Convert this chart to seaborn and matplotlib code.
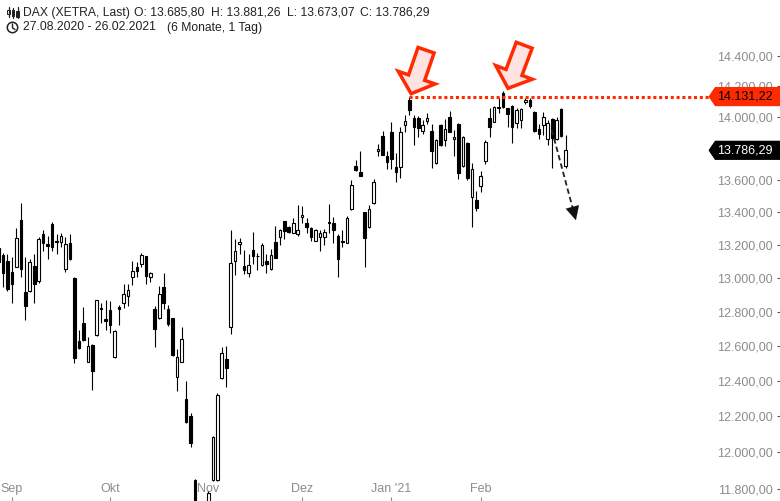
import numpy as np
import pandas as pd
import matplotlib
matplotlib.use("Agg")
import matplotlib.pyplot as plt
import seaborn as sns
from matplotlib.patches import Polygon, Rectangle, Circle
from matplotlib.lines import Line2D
from matplotlib.transforms import IdentityTransform
from matplotlib.ticker import FixedLocator, FuncFormatter, NullLocator

# DAX (XETRA) daily candles 27.08.2020 - 26.02.2021
opens = [13180, 13138, 13102, 13036, 13068, 13353, 12915, 12924, 13070, 12984,
         13265, 13206, 13326, 13223, 13218, 13056, 13211, 13000, 12628, 12731,
         12509, 12608, 12664, 12822, 12758, 12810, 12538, 12826, 12853, 12895,
         13008, 13064, 13082, 13132, 13008, 12819, 12765, 12944, 12816, 12761,
         12422, 12509, 12295, 12201, 11845, 11540, 11640, 11640, 11848, 11848,
         12415, 12523, 12711, 13104, 13203, 13070, 13032, 13167, 13135, 13078,
         13102, 13052, 13215, 13249, 13344, 13310, 13274, 13268, 13368, 13336,
         13300, 13225, 13249, 13245, 13334, 13336, 13253, 13220, 13212, 13418,
         13690, 13647, 13398, 13306, 13455, 13779, 13878, 13750, 13900, 13679,
         13683, 13945, 14110, 13991, 13995, 13910, 13974, 13907, 13704, 13950,
         13852, 13998, 13859, 13956, 13687, 13835, 13495, 13475, 13561, 13721,
         13992, 13970, 14062, 14157, 14056, 14071, 13960, 13980, 14095, 14110,
         14034, 13925, 13947, 13861, 13985, 13856, 14052, 13685.80]
highs = [13215, 13148, 13142, 13128, 13300, 13458, 13128, 13112, 13142, 13249,
         13290, 13253, 13338, 13264, 13270, 13249, 13267, 13005, 12693, 12829,
         12652, 12612, 12870, 12850, 12870, 12864, 12690, 12840, 12964, 12964,
         13102, 13094, 13152, 13135, 13038, 12833, 12952, 13032, 12840, 12765,
         12581, 12713, 12400, 12219, 11855, 11690, 11700, 11785, 12090, 12330,
         12593, 12597, 13293, 13235, 13240, 13169, 13142, 13277, 13148, 13212,
         13142, 13172, 13314, 13298, 13348, 13314, 13365, 13443, 13437, 13361,
         13310, 13296, 13290, 13296, 13453, 13371, 13265, 13290, 13376, 13600,
         13725, 13780, 13402, 13443, 13606, 13826, 13910, 13780, 13970, 13770,
         13932, 14012, 14131.22, 14012, 14005, 13977, 14028, 13955, 13856, 13957,
         13985, 14038, 13916, 13960, 13878, 13841, 13704, 13531, 13654, 13852,
         14056, 14070, 14120, 14169, 14060, 14075, 14056, 14060, 14125, 14120,
         14038, 13956, 14034, 13980, 13991, 13998, 14056, 13881.26]
lows = [12947, 12948, 12924, 12850, 13064, 13008, 12754, 12918, 12853, 12972,
        13162, 13114, 13162, 13142, 13188, 13038, 13108, 12500, 12580, 12630,
        12505, 12350, 12660, 12735, 12692, 12675, 12530, 12721, 12820, 12835,
        12958, 13008, 13064, 12964, 12978, 12593, 12755, 12816, 12717, 12542,
        12342, 12505, 12163, 12030, 11450, 11450, 11450, 11570, 11842, 11842,
        12409, 12367, 12670, 13018, 13142, 13022, 13008, 13082, 13048, 13072,
        13032, 13048, 13118, 13198, 13235, 13274, 13270, 13253, 13331, 13274,
        13225, 13224, 13164, 13198, 13274, 13212, 13008, 13188, 13208, 13413,
        13658, 13622, 13064, 13302, 13450, 13752, 13755, 13666, 13666, 13589,
        13615, 13905, 14012, 13820, 13874, 13889, 13952, 13677, 13700, 13813,
        13813, 13901, 13750, 13606, 13683, 13600, 13307, 13408, 13523, 13697,
        13874, 13964, 14023, 14055, 13932, 13835, 13927, 13927, 14080, 14056,
        13905, 13859, 13886, 13820, 13677, 13852, 13872, 13673.07]
closes = [13096, 13028, 12934, 12966, 13240, 13052, 12835, 13096, 12962, 13233,
          13209, 13194, 13188, 13215, 13252, 13202, 13112, 12529, 12586, 12635,
          12597, 12457, 12867, 12814, 12748, 12725, 12687, 12818, 12905, 12929,
          13042, 13044, 13138, 13012, 13028, 12697, 12903, 12850, 12727, 12548,
          12536, 12641, 12169, 12052, 11561, 11598, 11556, 11775, 12085, 12320,
          12561, 12471, 13092, 13162, 13217, 13048, 13076, 13134, 13132, 13198,
          13082, 13136, 13122, 13288, 13286, 13280, 13331, 13288, 13382, 13310,
          13249, 13293, 13274, 13280, 13340, 13293, 13112, 13223, 13365, 13569,
          13662, 13626, 13239, 13418, 13585, 13794, 13759, 13714, 13729, 13652,
          13900, 13974, 14045, 13937, 13927, 13946, 13991, 13782, 13852, 13821,
          13920, 13905, 13874, 13644, 13870, 13615, 13666, 13427, 13627, 13841,
          13933, 14062, 14057, 14066, 14019, 13933, 14045, 14052, 14109, 14067,
          13912, 13888, 13998, 13960, 13863, 13980, 13878, 13786.29]

month_labels = ["Sep", "Okt", "Nov", "Dez", "Jan '21", "Feb"]
price_ticks = [11800, 12000, 12200, 12400, 12600, 12800, 13000, 13200,
               13400, 13600, 13800, 14000, 14200, 14400]
resistance = 14131.22
holidays = ["2020-12-24", "2020-12-25", "2020-12-31", "2021-01-01"]

days = pd.bdate_range("2020-08-27", "2021-02-26")
days = days[~days.isin(pd.to_datetime(holidays))]
df = pd.DataFrame({"date": days, "open": opens, "high": highs,
                   "low": lows, "close": closes})
df["x"] = np.arange(len(df))
df["up"] = df["close"] >= df["open"]
month_start = df.index[df["date"].dt.month != df["date"].dt.month.shift()][1:]

RED = "#ff2a00"
GREY = "#8c8c8c"


def de(v, pos=None):
    s = f"{v:,.2f}"
    return s.replace(",", "X").replace(".", ",").replace("X", ".")


sns.set_theme(style="white")
plt.rcParams["font.family"] = ["Liberation Sans", "DejaVu Sans"]

W, H = 780, 501
fig = plt.figure(figsize=(W / 100, H / 100), dpi=100)
ax = fig.add_axes([0, 0, 1, 1])
ax.set_yscale("log")

# candles
ax.vlines(df["x"], df["low"], df["high"], color="black", lw=0.8, zorder=2)
body_lo = df[["open", "close"]].min(axis=1)
body_h = (df["close"] - df["open"]).abs()
up = df["up"]
ax.bar(df["x"][up], body_h[up], bottom=body_lo[up], width=0.58,
       color="white", edgecolor="black", lw=0.8, zorder=3)
ax.bar(df["x"][~up], body_h[~up], bottom=body_lo[~up], width=0.58,
       color="black", edgecolor="black", lw=0.8, zorder=3)

ax.set_xlim(0.34, 175.0)
ax.set_ylim(11733, 14773)

# axes / ticks
ax.yaxis.tick_right()
ax.yaxis.set_major_locator(FixedLocator(price_ticks))
ax.yaxis.set_major_formatter(FuncFormatter(de))
ax.yaxis.set_minor_locator(NullLocator())
ax.tick_params(axis="y", which="major", direction="in", length=2.5, width=0.8,
               color="#555555", pad=-5, labelsize=9, labelcolor=GREY,
               right=True, left=False)
for t in ax.yaxis.get_major_ticks():
    t.label2.set_horizontalalignment("right")

ax.set_xticks(month_start)
ax.set_xticklabels(month_labels)
ax.tick_params(axis="x", direction="in", length=3, width=0.8, color=GREY,
               pad=-4, labelsize=9, labelcolor=GREY, bottom=True)
for t in ax.xaxis.get_major_ticks():
    t.label1.set_verticalalignment("bottom")
sns.despine(ax=ax, left=True, right=True, top=True, bottom=True)
ax.grid(False)

# resistance line
jan8 = int(df["high"].iloc[:100].idxmax())
ax.plot([jan8, 159.8], [resistance, resistance], color=RED, lw=2.2,
        dashes=(1.0, 0.9), dash_capstyle="butt", zorder=4)


def price_tag(val, fc, tc):
    yd = ax.transData.transform((0, val))[1]
    x0, x1, h = 708.5, 780.5, 9.6
    verts = [(x0, yd), (x0 + 6.5, yd + h), (x1, yd + h), (x1, yd - h), (x0 + 6.5, yd - h)]
    ax.add_patch(Polygon(verts, closed=True, fc=fc, ec="none",
                         transform=IdentityTransform(), zorder=7, clip_on=False))
    ax.text(773 / W, val, de(val), transform=ax.get_yaxis_transform(),
            ha="right", va="center", fontsize=9, color=tc, zorder=8)


price_tag(resistance, RED, "black")
price_tag(closes[-1], "black", "white")


def block_arrow(tip_xy, direction, L=46, h=17, w=17, Wh=39):
    tip = ax.transData.transform(tip_xy)
    d = np.array(direction, float)
    d /= np.linalg.norm(d)
    n = np.array([-d[1], d[0]])
    pts = [tip, tip + h * d + Wh / 2 * n, tip + h * d + w / 2 * n,
           tip + L * d + w / 2 * n, tip + L * d - w / 2 * n,
           tip + h * d - w / 2 * n, tip + h * d - Wh / 2 * n]
    ax.add_patch(Polygon(pts, closed=True, fc="#ffe3e3", ec=RED, lw=2.5,
                         joinstyle="miter", transform=IdentityTransform(),
                         zorder=6, clip_on=False))


block_arrow((92.4, 14150), (15, 43.7))
block_arrow((114.1, 14185), (15, 40))

# dashed projection arrow
start, end = (123.9, 13916), (129.3, 13350)
pre = (start[0] + 0.88 * (end[0] - start[0]), start[1] * (end[1] / start[1]) ** 0.88)
ax.plot([start[0], pre[0]], [start[1], pre[1]], color="#222222", lw=1.3,
        dashes=(3, 1.8), zorder=5)
ax.annotate("", xy=end, xytext=pre,
            arrowprops=dict(arrowstyle="-|>,head_length=0.7,head_width=0.35",
                            color="#111111", lw=0.1, mutation_scale=14,
                            shrinkA=0, shrinkB=0), zorder=5)


# header
def fp(x, y):
    return x / W, 1 - y / H


hdr = dict(fontsize=8.7, color="#222222", va="center", ha="left")
fig.text(*fp(23, 12.7), "DAX (XETRA, Last)", **hdr)
fig.text(*fp(134, 12.7), "O: " + de(opens[-1]), **hdr)
fig.text(*fp(211, 12.7), "H: " + de(highs[-1]), **hdr)
fig.text(*fp(287, 12.7), "L: " + de(lows[-1]), **hdr)
fig.text(*fp(360, 12.7), "C: " + de(closes[-1]), **hdr)
fig.text(*fp(23, 27.5), "27.08.2020 - 26.02.2021", **hdr)
fig.text(*fp(167, 27.5), "(6 Monate, 1 Tag)", **hdr)

# candle icon
for cx, (w0, w1), (b0, b1), fill in [(8.5, (7, 17), (10, 14), "white"),
                                      (13, (8, 18), (10, 16), "#222222"),
                                      (17.5, (7, 18), (11, 17), "#222222")]:
    fig.add_artist(Line2D([cx / W, cx / W], [1 - w0 / H, 1 - w1 / H],
                          color="#222222", lw=0.9))
    fig.add_artist(Rectangle(fp(cx - 1.3, b1), 2.6 / W, (b1 - b0) / H,
                             fc=fill, ec="#222222", lw=0.7))
# clock icon
fig.add_artist(Circle((12.5, H - 27.5), 5.2, fill=False, ec="#222222", lw=1.1,
                      transform=IdentityTransform()))
fig.add_artist(Line2D([12.5 / W, 12.5 / W, 15 / W],
                      [1 - 24 / H, 1 - 27.8 / H, 1 - 29.6 / H],
                      color="#222222", lw=1.0))

fig.savefig("out.png", dpi=100, facecolor="white")
